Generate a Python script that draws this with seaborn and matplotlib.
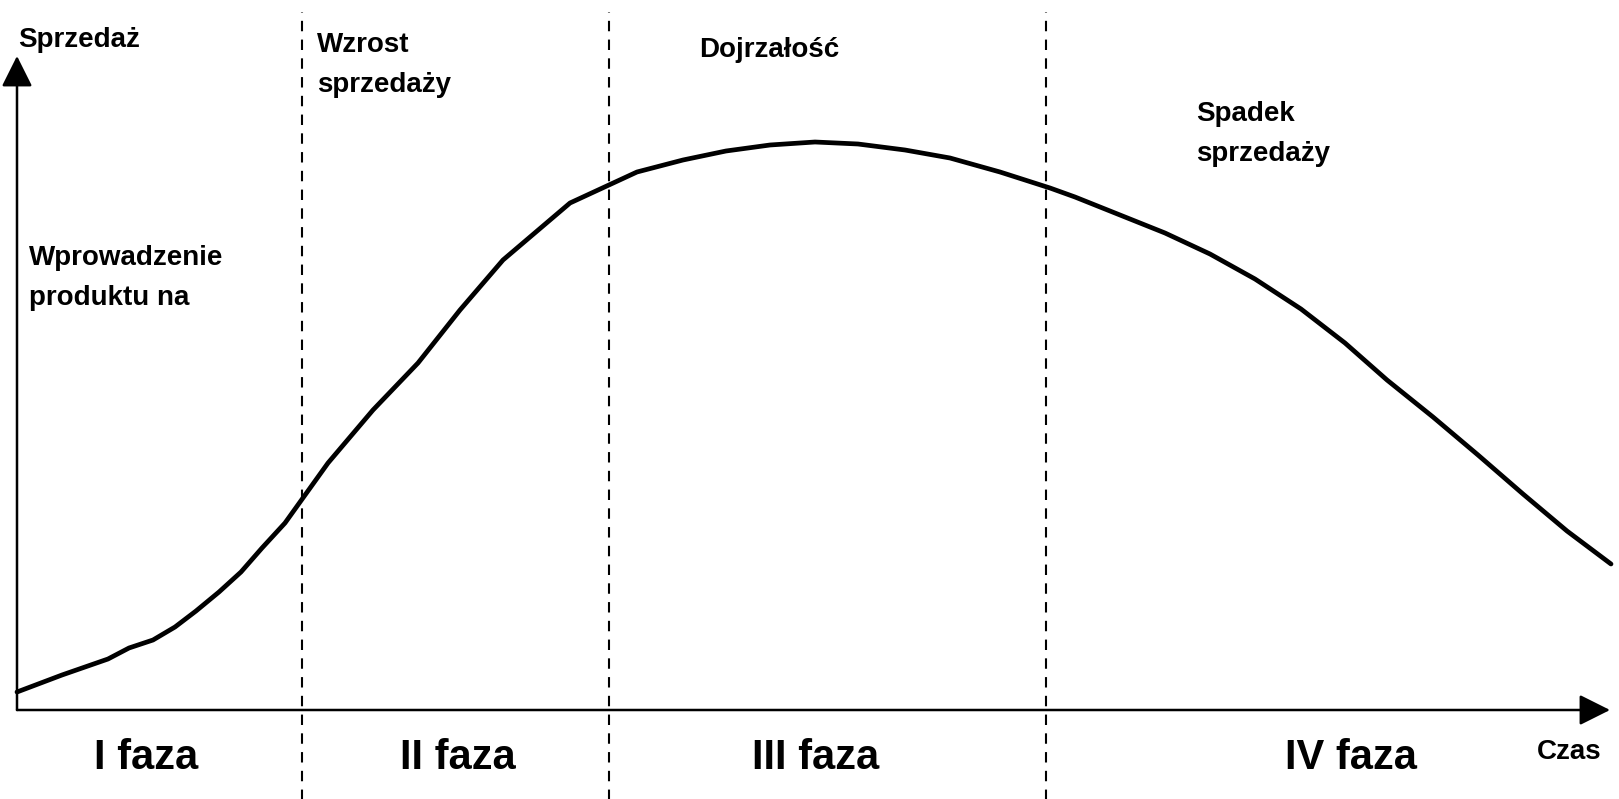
import numpy as np
import pandas as pd
import matplotlib
matplotlib.use("Agg")
import matplotlib.pyplot as plt
import seaborn as sns

sns.set_theme(style="white")
plt.rcParams["font.family"] = ["Liberation Sans", "DejaVu Sans"]
plt.rcParams["text.color"] = "black"

# Product life cycle curve (time vs sales, arbitrary units)
time = [0, 45, 91, 112, 136, 158, 179, 202, 224, 245, 268, 311, 356, 401, 443,
        486, 553, 620, 666, 709, 753, 798, 841, 888, 933, 983, 1033, 1058, 1103,
        1148, 1193, 1238, 1284, 1328, 1370, 1416, 1461, 1506, 1550, 1594]
sales = [18, 35, 51, 62, 70, 83, 99, 118, 138, 162, 187, 247, 300, 347, 400,
         450, 507, 538, 550, 559, 565, 568, 566, 560, 552, 538, 522, 513, 495,
         477, 456, 431, 401, 367, 330, 293, 255, 216, 179, 146]

# phase boundaries on the time axis
phase_bounds = [284.5, 592, 1029]
phase_names = ["I faza", "II faza", "III faza", "IV faza"]
phase_centers = [129, 441, 799, 1334]

curve = pd.DataFrame({"Czas": time, "Sprzedaż": sales})

fig = plt.figure(figsize=(16.19, 7.99), dpi=100)
ax = fig.add_axes([0, 0, 1, 1])
ax.set_xlim(-17, 1602)
ax.set_ylim(-89, 710)
ax.axis("off")

sns.lineplot(data=curve, x="Czas", y="Sprzedaż", color="black", lw=3.4,
             solid_joinstyle="round", solid_capstyle="round", ax=ax)

for b in phase_bounds:
    ax.plot([b, b], [-95, 698], color="black", lw=1.5, linestyle=(0, (5, 4)))

# axes with arrow heads
arrow = dict(arrowstyle="-|>,head_length=1.0,head_width=0.5", color="black",
             lw=1.8, mutation_scale=19, shrinkA=0, shrinkB=0)
ax.annotate("", xy=(0, 654), xytext=(0, 0), arrowprops=arrow)
ax.annotate("", xy=(1593, 0), xytext=(0, 0), arrowprops=arrow)

small = dict(fontsize=20, fontweight="bold", ha="left", va="baseline", color="black")
ax.text(1, 663, "Sprzedaż", **small)
ax.text(300, 658, "Wzrost", **small)
ax.text(300, 618, "sprzedaży", **small)
ax.text(682, 653, "Dojrzałość", **small)
ax.text(1179, 589, "Spadek", **small)
ax.text(1179, 549, "sprzedaży", **small)
ax.text(12, 445, "Wprowadzenie", **small)
ax.text(12, 405, "produktu na", **small)
ax.text(1520, -49, "Czas", **small)

for name, c in zip(phase_names, phase_centers):
    ax.text(c, -59, name, fontsize=30, fontweight="bold", ha="center",
            va="baseline", color="black")

fig.savefig("out.png", dpi=100, facecolor="white")
